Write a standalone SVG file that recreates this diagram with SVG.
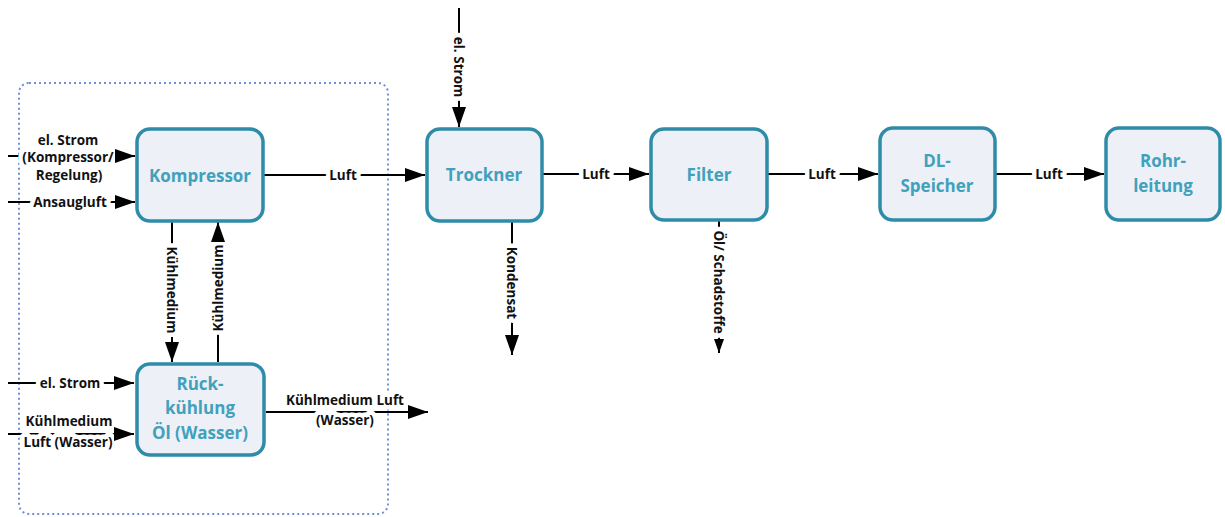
<svg xmlns="http://www.w3.org/2000/svg" width="1225" height="517" viewBox="0 0 1225 517">
  <style>
    .node { fill: #EEF0F8; stroke: #2F8CA8; stroke-width: 3.5; }
    .nlabel { font-family: "Open Sans", Lato, sans-serif; font-weight: bold; font-size: 17px; fill: #40A1BD; text-anchor: middle; }
    .edge { stroke: #000; stroke-width: 2; fill: none; }
    .tip { stroke: #000; stroke-width: 2; fill: none; marker-end: url(#arrow); }
    .tip-small { stroke: #000; stroke-width: 2; fill: none; marker-end: url(#arrow-small); }
    .elabel { font-family: "Open Sans", Lato, sans-serif; font-weight: bold; font-size: 13.5px; fill: #111; text-anchor: middle; stroke: #fff; stroke-width: 9; paint-order: stroke; stroke-linejoin: round; }
    .group { fill: none; stroke: #6F8FD6; stroke-width: 2; stroke-dasharray: 2 3; }
  </style>
  <defs>
    <marker id="arrow" viewBox="0 0 20 14" refX="20" refY="7" markerWidth="20" markerHeight="14" markerUnits="userSpaceOnUse" orient="auto">
      <path d="M0,0 L20,7 L0,14 Z" fill="#000"/>
    </marker>
    <marker id="arrow-small" viewBox="0 0 14 10" refX="14" refY="5" markerWidth="14" markerHeight="10" markerUnits="userSpaceOnUse" orient="auto">
      <path d="M0,0 L14,5 L0,10 Z" fill="#000"/>
    </marker>
  </defs>
  <rect width="1225" height="517" fill="#fff"/>

  <!-- compressor station boundary -->
  <rect class="group" x="19" y="83" width="369" height="431" rx="10"/>

  <g id="connectors">
    <!-- connector lines -->
    <line class="edge" x1="8" y1="156" x2="135" y2="156"/>
    <line class="edge" x1="8" y1="202" x2="135" y2="202"/>
    <line class="edge" x1="264" y1="175" x2="425" y2="175"/>
    <line class="edge" x1="172" y1="222" x2="172" y2="362"/>
    <line class="edge" x1="218" y1="362" x2="218" y2="222"/>
    <line class="edge" x1="8" y1="383" x2="134" y2="383"/>
    <line class="edge" x1="8" y1="434" x2="134" y2="434"/>
    <line class="edge" x1="266" y1="412" x2="428" y2="412"/>
    <line class="edge" x1="459" y1="8" x2="459" y2="127"/>
    <line class="edge" x1="512" y1="222" x2="512" y2="355"/>
    <line class="edge" x1="543" y1="174" x2="649" y2="174"/>
    <line class="edge" x1="719" y1="220" x2="719" y2="353"/>
    <line class="edge" x1="768" y1="174" x2="878" y2="174"/>
    <line class="edge" x1="996" y1="174" x2="1104" y2="174"/>

    <!-- connector labels -->
    <text class="elabel" x="68" y="145">el. Strom</text>
    <text class="elabel" x="68" y="162">(Kompressor/</text>
    <text class="elabel" x="69" y="180">Regelung)</text>
    <text class="elabel" x="70" y="207">Ansaugluft</text>
    <text class="elabel" x="343" y="180">Luft</text>
    <text class="elabel" transform="translate(167,290) rotate(90)">Kühlmedium</text>
    <text class="elabel" transform="translate(223,288) rotate(-90)">Kühlmedium</text>
    <text class="elabel" x="70" y="388">el. Strom</text>
    <text class="elabel" x="69" y="426">Kühlmedium</text>
    <text class="elabel" x="68" y="447">Luft (Wasser)</text>
    <text class="elabel" x="345" y="405">Kühlmedium Luft</text>
    <text class="elabel" x="345" y="425">(Wasser)</text>
    <text class="elabel" transform="translate(454,67) rotate(90)">el. Strom</text>
    <text class="elabel" transform="translate(507,283) rotate(90)">Kondensat</text>
    <text class="elabel" x="596" y="179">Luft</text>
    <text class="elabel" transform="translate(714,282) rotate(90)">Öl/ Schadstoffe</text>
    <text class="elabel" x="822" y="179">Luft</text>
    <text class="elabel" x="1049" y="179">Luft</text>

    <!-- arrowheads, kept above the label backgrounds -->
    <line class="tip" x1="125" y1="156" x2="135" y2="156"/>
    <line class="tip" x1="125" y1="202" x2="135" y2="202"/>
    <line class="tip" x1="415" y1="175" x2="425" y2="175"/>
    <line class="tip" x1="172" y1="352" x2="172" y2="362"/>
    <line class="tip" x1="218" y1="232" x2="218" y2="222"/>
    <line class="tip" x1="124" y1="383" x2="134" y2="383"/>
    <line class="tip" x1="124" y1="434" x2="134" y2="434"/>
    <line class="tip" x1="418" y1="412" x2="428" y2="412"/>
    <line class="tip" x1="459" y1="117" x2="459" y2="127"/>
    <line class="tip" x1="512" y1="345" x2="512" y2="355"/>
    <line class="tip" x1="639" y1="174" x2="649" y2="174"/>
    <line class="tip-small" x1="719" y1="343" x2="719" y2="353"/>
    <line class="tip" x1="868" y1="174" x2="878" y2="174"/>
    <line class="tip" x1="1094" y1="174" x2="1104" y2="174"/>
  </g>

  <g id="kompressor">
    <rect class="node" x="137" y="129" width="126" height="92" rx="13"/>
    <text class="nlabel" x="200" y="182">Kompressor</text>
  </g>
  <g id="rueckkuehlung">
    <rect class="node" x="137" y="364" width="127" height="91" rx="13"/>
    <text class="nlabel" x="200" y="390">Rück-</text>
    <text class="nlabel" x="200" y="414">kühlung</text>
    <text class="nlabel" x="200" y="439">Öl (Wasser)</text>
  </g>
  <g id="trockner">
    <rect class="node" x="427" y="129" width="115" height="92" rx="13"/>
    <text class="nlabel" x="484" y="181">Trockner</text>
  </g>
  <g id="filter">
    <rect class="node" x="651" y="129" width="116" height="91" rx="13"/>
    <text class="nlabel" x="709" y="181">Filter</text>
  </g>
  <g id="dl-speicher">
    <rect class="node" x="880" y="128" width="115" height="92" rx="13"/>
    <text class="nlabel" x="937" y="167">DL-</text>
    <text class="nlabel" x="937" y="192">Speicher</text>
  </g>
  <g id="rohrleitung">
    <rect class="node" x="1106" y="128" width="114" height="92" rx="13"/>
    <text class="nlabel" x="1163" y="167">Rohr-</text>
    <text class="nlabel" x="1163" y="192">leitung</text>
  </g>
</svg>
